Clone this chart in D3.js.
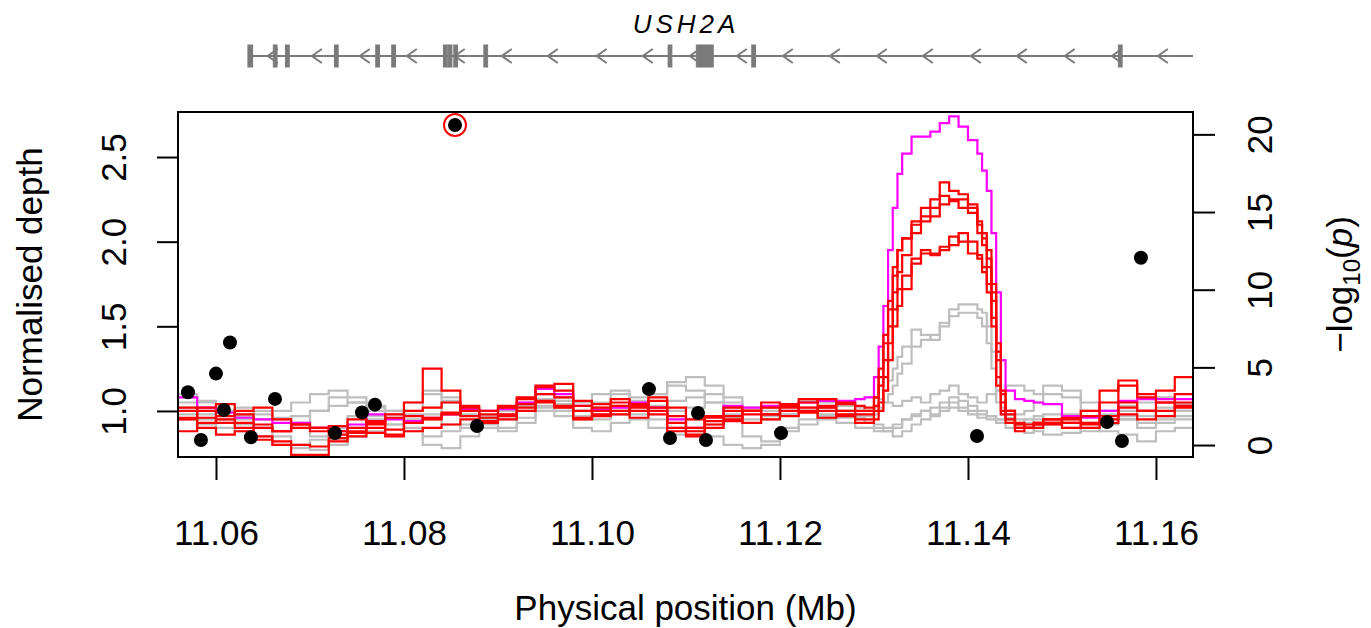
<!DOCTYPE html>
<html lang="en">
<head>
<meta charset="utf-8">
<title>USH2A depth</title>
<script src="https://cdn.jsdelivr.net/npm/d3@7"></script>
<style>
  body { margin: 0; background: #fff; }
  svg text { font-family: "Liberation Sans", Arial, sans-serif; fill: #000; }
  .depth { fill: none; stroke-width: 2.2px; stroke-linejoin: miter; }
  .axis path, .axis line { stroke: #000; stroke-width: 2px; }
</style>
</head>
<body>
<svg width="1371" height="628"></svg>
<script>

// positions (Mb) at which each depth step starts
var xs = [11.056,11.058,11.060,11.062,11.064,11.066,11.068,11.070,11.072,11.074,
          11.076,11.078,11.080,11.082,11.084,11.086,11.088,11.090,11.092,11.094,
          11.096,11.098,11.100,11.102,11.104,11.106,11.108,11.110,11.112,11.114,
          11.116,11.118,11.120,11.122,11.124,11.126,11.128,
          11.129,11.130,11.1305,11.131,11.1315,11.132,11.1325,11.133,
          11.134,11.135,11.136,11.137,11.138,11.139,11.140,
          11.141,11.1415,11.142,11.1425,11.143,11.1435,11.144,
          11.145,11.146,11.147,11.148,
          11.150,11.152,11.154,11.156,11.158,11.160,11.162,11.164];

// normalised depth, one array per sample
var magenta = [1.08,1.02,0.99,0.96,0.95,0.93,0.93,0.90,0.88,0.92, 0.98,0.95,0.94,0.96,0.98,1.01,1.0,1.01,1.05,1.13,
  1.10,1.03,1.01,1.02,1.05,1.02,0.95,0.90,0.97,1.03, 1.02,1.03,1.04,1.05,1.06,1.06,1.07,
  1.08,1.2,1.38,1.62,1.95,2.2,2.4,2.52, 2.62,2.62,2.65,2.70,2.74,2.68,2.6, 2.52,2.42,2.3,2.05,1.7,1.3,1.12, 1.07,1.06,1.05,1.04,
  0.97,0.96,1.0,1.06,1.07,1.07,1.07,1.07];

var red1 = [1.0,0.96,0.93,0.90,0.85,0.80,0.74,0.74,0.82,0.88, 0.92,0.96,0.97,0.95,0.99,1.03,0.98,1.02,1.08,1.15,
  1.12,1.0,1.04,1.05,1.03,1.06,0.88,0.86,0.96,1.02, 1.0,1.05,1.03,1.07,1.03,1.05,1.0,
  1.0,1.08,1.25,1.45,1.65,1.85,1.95,2.02, 2.12,2.2,2.25,2.35,2.3,2.28,2.22, 2.12,2.05,1.95,1.75,1.4,1.12,1.0, 0.92,0.9,0.92,0.95,
  0.93,1.0,1.12,1.15,1.08,1.12,1.2,1.22];
var red2 = [0.95,1.02,1.04,0.98,0.92,0.88,0.92,0.90,0.86,0.87, 0.93,0.98,1.0,1.02,1.05,1.02,0.96,0.98,1.04,1.14,
  1.16,1.06,1.02,1.07,1.0,1.02,0.97,0.88,0.94,1.0, 0.98,0.95,1.0,1.05,1.07,1.04,1.03,
  1.02,1.08,1.2,1.4,1.6,1.8,1.95,2.02, 2.1,2.15,2.2,2.27,2.25,2.25,2.2, 2.1,2.02,1.9,1.7,1.35,1.1,1.0, 0.93,0.9,0.93,0.93,
  0.95,0.97,1.05,1.18,1.1,1.05,1.1,1.15];
var red3 = [0.88,0.93,0.97,1.0,1.02,0.95,0.90,0.88,0.91,0.95, 0.90,0.86,0.88,0.90,0.92,0.95,1.0,1.03,1.07,1.1,
  1.08,1.03,0.98,1.03,0.96,1.08,1.02,0.95,0.92,0.94, 1.0,1.02,0.97,1.02,1.0,1.0,0.98,
  0.98,1.03,1.15,1.3,1.5,1.7,1.82,1.92, 2.05,2.12,2.15,2.22,2.24,2.2,2.17, 2.05,1.98,1.85,1.65,1.3,1.05,0.98, 0.9,0.9,0.92,0.92,
  0.96,0.93,0.95,1.02,1.0,1.05,1.03,1.08];
var red4 = [0.96,0.9,0.86,0.88,0.83,0.82,0.8,0.79,0.84,0.9, 0.94,0.89,0.93,0.96,0.98,1.0,0.94,0.97,1.0,1.06,
  1.03,0.96,1.0,0.98,1.02,0.98,0.93,0.85,0.9,0.97, 0.93,0.98,1.04,1.0,0.96,0.98,0.95,
  0.95,1.0,1.05,1.2,1.4,1.6,1.72,1.8, 1.9,1.93,1.92,1.97,1.98,2.05,2.0, 1.92,1.85,1.75,1.55,1.2,1.0,0.95, 0.9,0.92,0.93,0.95,
  0.93,0.9,0.93,0.98,0.95,1.0,1.02,1.0];
var red5 = [1.02,1.0,0.95,0.93,0.9,0.88,0.92,0.9,0.88,0.85, 0.87,0.85,1.05,1.25,1.12,0.97,0.93,0.95,1.02,1.05,
  1.02,0.95,0.97,1.0,1.04,1.0,0.9,0.9,0.97,0.95, 1.0,0.98,1.02,0.99,1.02,0.97,0.93,
  0.93,0.95,1.0,1.12,1.3,1.5,1.62,1.72, 1.87,1.95,1.93,1.95,2.03,2.0,1.93, 1.9,1.82,1.7,1.5,1.15,0.98,0.93, 0.88,0.9,0.9,0.93,
  0.9,0.92,0.97,1.05,1.0,0.97,1.05,1.1];

var grey1 = [1.05,1.0,0.95,0.92,0.9,0.88,0.93,1.0,1.08,1.05, 0.97,0.92,0.95,0.98,1.05,0.98,0.92,0.95,1.0,1.07,
  1.02,0.95,1.05,1.1,1.08,1.03,1.0,0.95,0.92,0.96, 1.0,1.02,0.98,1.0,1.02,1.0,1.0,
  1.0,1.03,1.07,1.12,1.18,1.25,1.32,1.38, 1.48,1.45,1.42,1.5,1.6,1.63,1.63, 1.6,1.58,1.5,1.35,1.12,1.02,0.98, 0.95,0.93,0.95,0.98,
  0.98,0.93,0.95,0.97,1.0,1.02,1.0,0.98];
var grey2 = [1.08,1.05,1.0,0.95,0.9,0.85,0.8,0.83,0.9,0.97, 1.02,0.98,0.9,0.85,0.88,0.92,0.96,0.98,1.05,1.1,
  1.06,1.0,0.98,1.02,1.05,1.1,1.15,1.12,1.05,0.98, 0.95,0.97,1.0,1.02,0.98,0.96,0.98,
  0.97,0.98,1.0,1.05,1.1,1.15,1.22,1.28, 1.38,1.42,1.45,1.52,1.56,1.58,1.58, 1.55,1.5,1.4,1.25,1.05,0.98,0.95, 0.92,0.95,0.97,0.95,
  0.95,0.97,1.0,0.95,0.93,0.97,1.0,1.03];
var grey3 = [1.1,1.06,1.0,0.97,0.95,1.0,1.05,1.1,1.12,1.08, 1.03,1.0,1.05,1.1,1.06,1.02,0.95,0.9,0.96,1.03,
  1.08,1.05,1.1,1.12,1.06,1.1,1.17,1.2,1.15,1.08, 1.02,1.0,1.04,1.06,1.05,1.03,1.02,
  1.0,1.02,1.02,1.05,1.05,1.03,1.03,1.06, 1.08,1.05,1.1,1.12,1.15,1.1,1.08, 1.05,1.05,1.1,1.1,1.12,1.12,1.15, 1.15,1.12,1.1,1.15,
  1.12,1.05,1.0,1.03,1.05,1.08,1.04,1.02];
var grey4 = [0.98,0.95,0.9,0.88,0.85,0.8,0.78,0.77,0.8,0.85, 0.88,0.92,0.88,0.8,0.78,0.85,0.9,0.88,0.93,1.0,
  0.97,0.9,0.88,0.93,0.95,0.9,0.86,0.88,0.85,0.8, 0.78,0.8,0.88,0.92,0.95,0.93,0.9,
  0.9,0.88,0.88,0.88,0.88,0.9,0.9,0.95, 0.97,1.0,0.98,1.02,1.05,1.02,1.0, 0.98,0.98,0.97,0.97,0.95,0.95,0.93, 0.92,0.9,0.88,0.86,
  0.87,0.9,0.88,0.86,0.82,0.88,0.9,0.88];
var grey5 = [1.02,0.98,1.0,1.02,0.98,0.95,0.97,1.0,1.03,1.05, 1.0,0.96,1.0,1.12,1.08,1.0,0.97,1.0,1.03,1.06,
  1.04,1.0,1.02,1.0,0.98,1.0,1.06,1.08,1.1,1.05, 1.0,0.95,0.98,1.0,1.02,1.0,0.97,
  0.95,0.92,0.92,0.9,0.9,0.92,0.92,0.95, 0.98,1.0,1.02,1.05,1.08,1.06,1.03, 1.0,1.0,0.97,0.97,0.95,0.95,0.96, 0.98,1.0,1.05,1.1,
  1.08,1.0,0.98,1.0,0.97,0.95,0.97,1.0];
var grey6 = [0.95,0.92,0.95,0.98,1.0,0.96,0.9,0.85,0.83,0.9, 0.95,1.0,0.98,0.95,0.92,0.9,0.95,0.97,1.0,1.02,
  1.0,0.97,0.95,0.98,1.0,0.95,0.9,1.02,1.05,0.95, 0.85,0.82,0.9,0.95,0.97,0.98,0.96,
  0.93,0.9,0.9,0.88,0.88,0.85,0.85,0.88, 0.92,0.95,0.97,1.0,1.02,1.0,0.98, 0.96,0.96,0.95,0.95,0.93,0.93,0.9, 0.88,0.87,0.9,0.92,
  0.9,0.88,0.92,0.95,0.9,0.93,0.95,0.96];

// association results
var snpPos  = [11.05702,11.0584,11.06,11.06085,11.06149,11.06372,11.06628,11.07266,11.07553,11.07691,
               11.08543,11.08777,11.10606,11.1083,11.11128,11.11213,11.12011,11.14096,11.15479,11.15638,11.1584];
var snpLogP = [3.4,0.32,4.6,2.26,6.6,0.5,2.97,0.77,2.1,2.6,
               20.6,1.23,3.6,0.45,2.06,0.32,0.77,0.58,1.48,0.26,12.06];
var topSnp = 10;

// gene model
var geneName = "USH2A";
var geneSpan = [11.0634, 11.1640];
var exons = [[11.0634,11.0639],[11.0661,11.0665],[11.0674,11.0678],[11.0726,11.0730],[11.0770,11.0774],
             [11.0787,11.0791],[11.0842,11.0846],[11.0847,11.0851],[11.0853,11.0857],[11.0885,11.0889],
             [11.1081,11.1085],[11.1111,11.1129],[11.1170,11.1174],[11.1560,11.1564]];
var strandArrows = [11.0655,11.0702,11.0753,11.0803,11.0854,11.0904,11.0953,11.1005,11.1054,11.1104,
                    11.1154,11.1203,11.1253,11.1303,11.1352,11.1403,11.1452,11.1503,11.1553,11.1602];

var xTicks = [11.06, 11.08, 11.10, 11.12, 11.14, 11.16];
var depthTicks = [1.0, 1.5, 2.0, 2.5];
var pTicks = [0, 5, 10, 15, 20];

var svg = d3.select("svg");
var box = {left: 178, right: 1193, top: 112, bottom: 457};

var x = d3.scaleLinear().domain([11.05596, 11.16394]).range([box.left, box.right]);
var y = d3.scaleLinear().domain([0.728, 2.766]).range([box.bottom, box.top]);
var yp = d3.scaleLinear().domain([-0.77, 21.44]).range([box.bottom, box.top]);

svg.append("defs").append("clipPath").attr("id", "clip")
  .append("rect")
  .attr("x", box.left).attr("y", box.top)
  .attr("width", box.right - box.left).attr("height", box.bottom - box.top);

// gene track
var gene = svg.append("g").attr("fill", "#7a7a7a").attr("stroke", "#7a7a7a");
var gy = 56;
gene.append("line")
  .attr("x1", x(geneSpan[0])).attr("x2", Math.min(x(geneSpan[1]), box.right))
  .attr("y1", gy).attr("y2", gy).attr("stroke-width", 2);
gene.selectAll("path.arrow").data(strandArrows).enter().append("path")
  .attr("class", "arrow")
  .attr("fill", "none").attr("stroke-width", 2)
  .attr("d", function(d) { var t = x(d); return "M" + (t + 10) + "," + (gy - 7) + "L" + t + "," + gy + "L" + (t + 10) + "," + (gy + 7); });
gene.selectAll("rect").data(exons).enter().append("rect")
  .attr("x", function(d) { return x(d[0]); })
  .attr("width", function(d) { return Math.max(2, x(d[1]) - x(d[0])); })
  .attr("y", gy - 11).attr("height", 22)
  .attr("stroke-width", 1);
svg.append("text")
  .attr("x", 686).attr("y", 33)
  .attr("text-anchor", "middle")
  .style("font-size", "26px").style("font-style", "italic").style("letter-spacing", "4px")
  .text(geneName);

// depth profiles
var line = d3.line()
  .curve(d3.curveStepAfter)
  .x(function(d) { return x(d[0]); })
  .y(function(d) { return y(d[1]); });

var greys = [grey1, grey2, grey3, grey4, grey5, grey6];
var reds = [red1, red2, red3, red4, red5];
var series = greys.map(function(v) { return {v: v, c: "#bebebe"}; })
  .concat([{v: magenta, c: "#ff00ff"}])
  .concat(reds.map(function(v) { return {v: v, c: "#ff0000"}; }));

var plot = svg.append("g").attr("clip-path", "url(#clip)");
plot.selectAll("path.depth").data(series).enter().append("path")
  .attr("class", "depth")
  .attr("stroke", function(d) { return d.c; })
  .attr("d", function(d) { return line(d.v.map(function(v, i) { return [xs[i], v]; })); });

// SNP points
plot.selectAll("circle.snp").data(snpPos).enter().append("circle")
  .attr("class", "snp")
  .attr("cx", function(d) { return x(d); })
  .attr("cy", function(d, i) { return yp(snpLogP[i]); })
  .attr("r", 7)
  .attr("fill", "#000");
svg.append("circle")
  .attr("cx", x(snpPos[topSnp])).attr("cy", yp(snpLogP[topSnp]))
  .attr("r", 11).attr("fill", "none").attr("stroke", "#ff0000").attr("stroke-width", 2);

// frame
svg.append("rect")
  .attr("x", box.left).attr("y", box.top)
  .attr("width", box.right - box.left).attr("height", box.bottom - box.top)
  .attr("fill", "none").attr("stroke", "#000").attr("stroke-width", 2);

// axes
var ax = svg.append("g").attr("class", "axis")
  .attr("transform", "translate(0," + box.bottom + ")")
  .call(d3.axisBottom(x).tickValues(xTicks).tickFormat(d3.format(".2f")).tickSize(23).tickSizeOuter(0));
ax.select(".domain").remove();
ax.selectAll("text").style("font-size", "35px").attr("y", 0).attr("dy", "2.5em");

var ayl = svg.append("g").attr("class", "axis")
  .attr("transform", "translate(" + box.left + ",0)")
  .call(d3.axisLeft(y).tickValues(depthTicks).tickFormat(d3.format(".1f")).tickSize(21).tickSizeOuter(0));
ayl.select(".domain").remove();
ayl.selectAll("text").style("font-size", "35px")
  .attr("x", null).attr("dy", null).attr("text-anchor", "middle")
  .attr("transform", "translate(-52,0) rotate(-90)");

var ayr = svg.append("g").attr("class", "axis")
  .attr("transform", "translate(" + box.right + ",0)")
  .call(d3.axisRight(yp).tickValues(pTicks).tickSize(22).tickSizeOuter(0));
ayr.select(".domain").remove();
ayr.selectAll("text").style("font-size", "35px")
  .attr("x", null).attr("dy", null).attr("text-anchor", "middle")
  .attr("transform", "translate(79,0) rotate(-90)");

// titles
svg.append("text")
  .attr("x", (box.left + box.right) / 2).attr("y", 620)
  .attr("text-anchor", "middle").style("font-size", "35px")
  .text("Physical position (Mb)");
svg.append("text")
  .attr("transform", "translate(42," + (box.top + box.bottom) / 2 + ") rotate(-90)")
  .attr("text-anchor", "middle").style("font-size", "35px")
  .text("Normalised depth");
var rt = svg.append("text")
  .attr("transform", "translate(1352," + (box.top + box.bottom) / 2 + ") rotate(-90)")
  .attr("text-anchor", "middle").style("font-size", "35px");
rt.append("tspan").text("\u2212log");
rt.append("tspan").attr("dy", 8).style("font-size", "24px").text("10");
rt.append("tspan").attr("dy", -8).text("(");
rt.append("tspan").style("font-style", "italic").text("p");
rt.append("tspan").text(")");

</script>
</body>
</html>
